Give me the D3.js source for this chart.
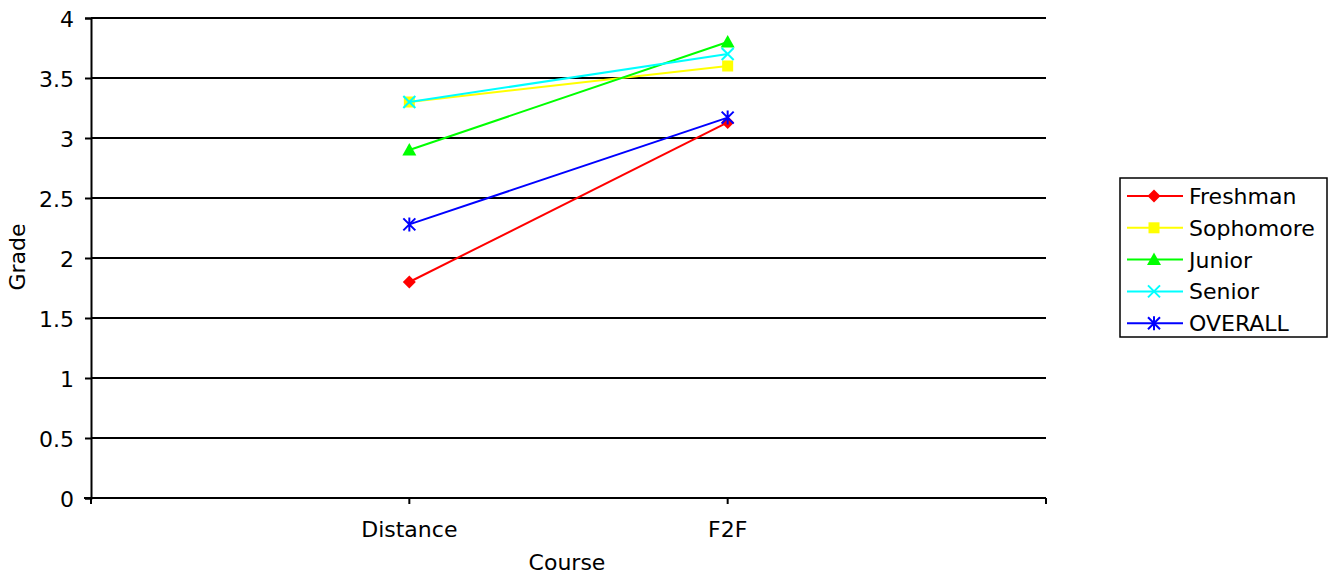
<!DOCTYPE html>
<html><head><meta charset="utf-8">
<script src="https://cdn.jsdelivr.net/npm/d3@7"></script>
<style>
body{margin:0;background:#fff;}
text{font-family:"DejaVu Sans",Verdana,sans-serif;fill:#000;}
</style></head>
<body><svg id="c" width="1331" height="575"></svg>
<script>
const categories = ["Distance", "F2F"];
const seriesNames = ["Freshman", "Sophomore", "Junior", "Senior", "OVERALL"];
const freshman = [1.8, 3.13];
const sophomore = [3.3, 3.6];
const junior = [2.9, 3.8];
const senior = [3.3, 3.7];
const overall = [2.28, 3.17];
const yTicks = [0, 0.5, 1, 1.5, 2, 2.5, 3, 3.5, 4];
const colors = ["#ff0000", "#ffff00", "#00ff00", "#00ffff", "#0000ff"];
const markers = ["diamond", "square", "triangle", "x", "star"];
const values = [freshman, sophomore, junior, senior, overall];

const svg = d3.select("#c");
const L = 91, R = 1046, T = 18, B = 498;
const x = d3.scalePoint().domain(categories).range([L, R]).padding(1);
const y = d3.scaleLinear().domain([0, 4]).range([B, T]);
const FS = 22;

// gridlines
svg.append("g").selectAll("line").data(yTicks.filter(d => d > 0)).join("line")
  .attr("x1", L).attr("x2", R).attr("y1", d => y(d)).attr("y2", d => y(d))
  .attr("stroke", "#000").attr("stroke-width", 2);

// y axis
const yAxis = d3.axisLeft(y).tickValues(yTicks).tickSize(6).tickPadding(11).tickFormat(d3.format("~g"));
const gy = svg.append("g").attr("transform", `translate(${L},0)`).call(yAxis);
gy.select(".domain").attr("stroke-width", 2);
gy.selectAll(".tick line").attr("stroke-width", 2);
gy.selectAll("text").attr("font-size", FS).attr("dy", "0.4em").style("font-family", '"DejaVu Sans",Verdana,sans-serif');

// x axis: ticks at ends and at categories
const xTickPos = [L, x(categories[0]), x(categories[1]), R];
svg.append("line").attr("x1", L - 7).attr("x2", R).attr("y1", B).attr("y2", B).attr("stroke", "#000").attr("stroke-width", 2);
svg.append("g").selectAll("line").data(xTickPos).join("line")
  .attr("x1", d => d).attr("x2", d => d).attr("y1", B).attr("y2", B + 6)
  .attr("stroke", "#000").attr("stroke-width", 2);
svg.append("g").selectAll("text").data(categories).join("text")
  .attr("x", d => x(d)).attr("y", 537).attr("text-anchor", "middle").attr("font-size", FS).text(d => d);

// axis titles
svg.append("text").attr("x", 567).attr("y", 570).attr("text-anchor", "middle").attr("font-size", FS).text("Course");
svg.append("text").attr("transform", "translate(25,257) rotate(-90)").attr("text-anchor", "middle").attr("font-size", FS).text("Grade");

function marker(g, type, color, cx, cy) {
  const s = 6.5;
  if (type === "diamond") {
    g.append("path").attr("d", `M${cx},${cy - s}L${cx + s},${cy}L${cx},${cy + s}L${cx - s},${cy}Z`).attr("fill", color);
  } else if (type === "square") {
    g.append("rect").attr("x", cx - 5.5).attr("y", cy - 5.5).attr("width", 11).attr("height", 11).attr("fill", color);
  } else if (type === "triangle") {
    g.append("path").attr("d", `M${cx},${cy - 7}L${cx + 7},${cy + 5.5}L${cx - 7},${cy + 5.5}Z`).attr("fill", color);
  } else if (type === "x") {
    g.append("path").attr("d", `M${cx - 6},${cy - 6}L${cx + 6},${cy + 6}M${cx - 6},${cy + 6}L${cx + 6},${cy - 6}`).attr("stroke", color).attr("stroke-width", 2);
  } else if (type === "star") {
    g.append("path").attr("d", `M${cx - 6},${cy - 6}L${cx + 6},${cy + 6}M${cx - 6},${cy + 6}L${cx + 6},${cy - 6}M${cx},${cy - 7}L${cx},${cy + 7}`).attr("stroke", color).attr("stroke-width", 2);
  }
}

const line = d3.line().x((d, i) => x(categories[i])).y(d => y(d));
seriesNames.forEach((name, k) => {
  const g = svg.append("g");
  g.append("path").datum(values[k]).attr("d", line).attr("fill", "none").attr("stroke", colors[k]).attr("stroke-width", 2);
  values[k].forEach((v, i) => marker(g, markers[k], colors[k], x(categories[i]), y(v)));
});

// legend
const lg = svg.append("g");
lg.append("rect").attr("x", 1120).attr("y", 178).attr("width", 207).attr("height", 159).attr("fill", "#fff").attr("stroke", "#000").attr("stroke-width", 1.5);
seriesNames.forEach((name, k) => {
  const cy = 196 + k * 31.8;
  lg.append("line").attr("x1", 1127).attr("x2", 1183).attr("y1", cy).attr("y2", cy).attr("stroke", colors[k]).attr("stroke-width", 2);
  marker(lg, markers[k], colors[k], 1154, cy);
  lg.append("text").attr("x", 1189).attr("y", cy + 8).attr("font-size", FS).text(name);
});
</script></body></html>
